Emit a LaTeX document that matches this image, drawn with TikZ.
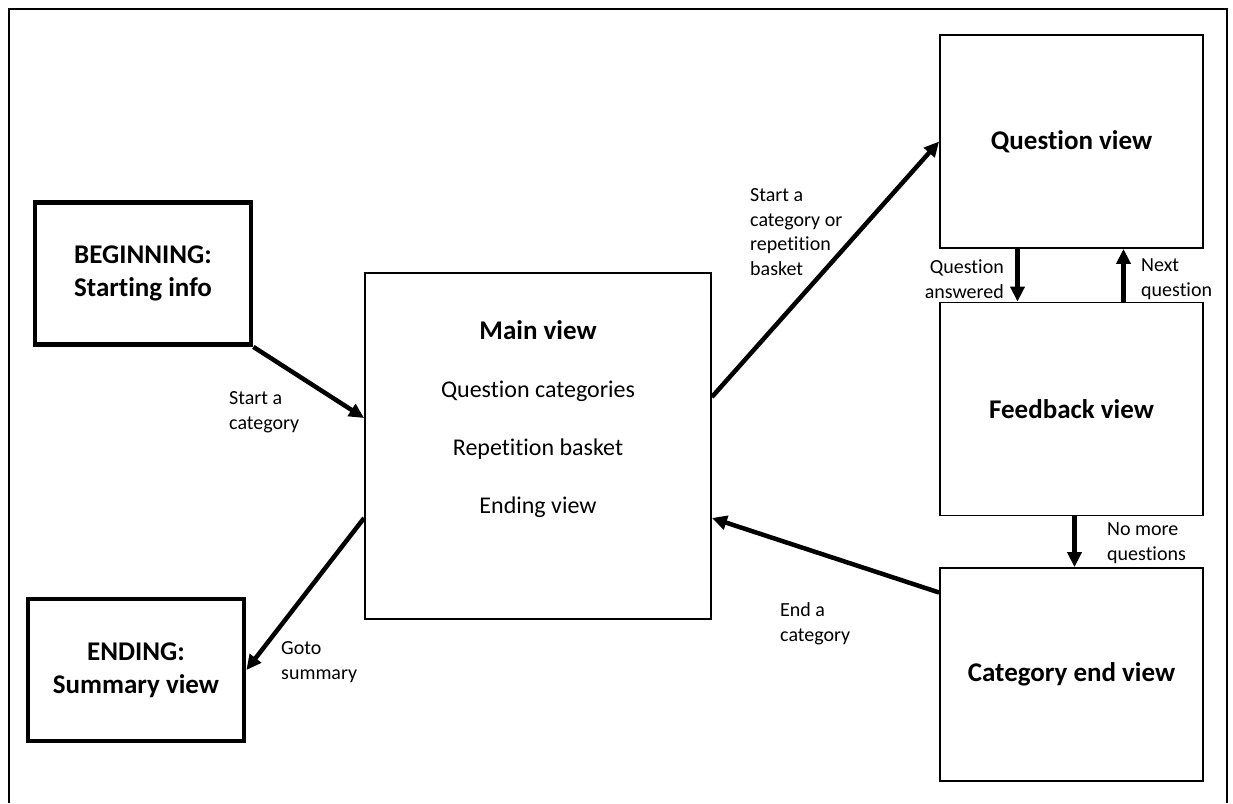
\documentclass[tikz,border=0pt]{standalone}
\usepackage{fontspec}
\setmainfont[Ligatures=NoCommon]{Carlito}
\usetikzlibrary{arrows.meta}

\begin{document}
\begin{tikzpicture}[x=1pt,y=-1pt,
  viewbox/.style={draw,line width=1.8pt,inner sep=0pt,minimum width=263pt,minimum height=213pt,font=\fontsize{27}{33}\selectfont\bfseries,align=center},
  endbox/.style={draw,line width=4.8pt,inner sep=0pt,minimum width=216pt,minimum height=142pt,font=\fontsize{27}{33}\selectfont\bfseries,align=center},
  flow/.style={line width=4.5pt,-{Triangle[length=15pt,width=14pt]}},
  note/.style={font=\fontsize{20}{24.5}\selectfont,inner sep=0pt}]
\useasboundingbox (0,0) rectangle (1233,803);
\draw[line width=1.8pt] (9,803) -- (9,9) -- (1227,9) -- (1227,803);
% start and end
\node[endbox] (begin) at (143,273.5) {BEGINNING:\\Starting info};
\node[endbox] (ending) at (136,670) {ENDING:\\Summary view};
% main view
\node[draw,line width=1.8pt,minimum width=346pt,minimum height=346pt] (main) at (538,446) {};
\node[font=\fontsize{27}{33}\selectfont\bfseries] (mainttl) at (538,330) {Main view};
\node[font=\fontsize{24}{29}\selectfont] (cats) at (538,391) {Question categories};
\node[font=\fontsize{24}{29}\selectfont] (basket) at (538,449) {Repetition basket};
\node[font=\fontsize{24}{29}\selectfont] (endview) at (538,507) {Ending view};
% right column
\node[viewbox] (question) at (1071.5,141.5) {Question view};
\node[viewbox] (feedback) at (1071.5,409) {Feedback view};
\node[viewbox] (catend) at (1071.5,674.5) {Category end view};
% arrows
\draw[flow] (begin.south east) -- ([yshift=28pt]main.west);
\draw[flow] ([yshift=49pt]main.east) -- (question.west);
\draw[flow] ([yshift=82pt]catend.west) -- ([yshift=-72pt]main.east);
\draw[flow] ([yshift=-72pt]main.west) -- (ending.east);
\draw[flow] ([xshift=-54pt]question.south) -- ([xshift=-54pt]feedback.north);
\draw[flow] ([xshift=52pt]feedback.north) -- ([xshift=52pt]question.south);
\draw[flow] ([xshift=3pt]feedback.south) -- ([xshift=3pt]catend.north);
% labels
\node[note,anchor=west,align=left] (lstart) at (229,412) {Start a\\category};
\node[note,anchor=west,align=left] (lrep) at (750,232) {Start a\\category or\\repetition\\basket};
\node[note,anchor=east,align=right] (lans) at (1004,279) {Question\\answered};
\node[note,anchor=west,align=left] (lnext) at (1141,279) {Next\\question};
\node[note,anchor=west,align=left] (lmore) at (1107,543) {No more\\questions};
\node[note,anchor=west,align=left] (lend) at (780,624) {End a\\category};
\node[note,anchor=west,align=left] (lgoto) at (281,662) {Goto\\summary};
\end{tikzpicture}
\end{document}
